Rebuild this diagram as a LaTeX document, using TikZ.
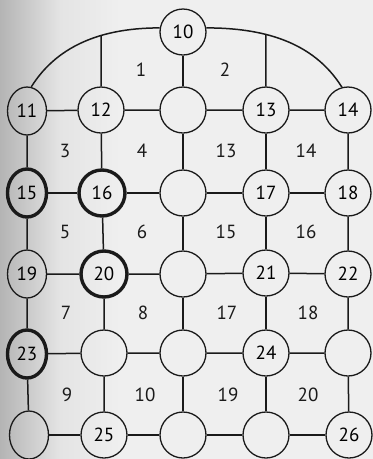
\documentclass[tikz,border=0pt]{standalone}
\usepackage{fontspec}
\setmainfont{PT Sans}
\usetikzlibrary{shapes.geometric,intersections}
\definecolor{bgedge}{HTML}{B4B4B4}
\definecolor{bgmid}{HTML}{E4E4E4}
\definecolor{bgmain}{HTML}{EFEFEF}
\definecolor{ink}{HTML}{1A1A1A}
\tikzset{
  vx/.style={circle,draw=ink,line width=1.3pt,minimum size=46pt,inner sep=0pt,font=\fontsize{19}{19}\selectfont},
  vxl/.style={ellipse,draw=ink,line width=1.3pt,minimum width=39pt,minimum height=48pt,inner sep=0pt,font=\fontsize{19}{19}\selectfont},
  bold/.style={line width=3.4pt},
  edge/.style={draw=ink,line width=1.5pt},
  reg/.style={font=\fontsize{19}{19}\selectfont,text=ink}
}
\begin{document}
\begin{tikzpicture}[x=1pt,y=-1pt]
\useasboundingbox (0,0) rectangle (373,459);
\fill[bgmain] (0,0) rectangle (373,459);
\shade[left color=bgedge,right color=bgmid] (0,0) rectangle (60,459);
\shade[left color=bgmid,right color=bgmain] (60,0) rectangle (120,459);
% nodes
\node[vx] (n10) at (183,32) {10};
% row 1
\node[vxl] (n11) at (27,111) {11};
\node[vx] (n12) at (101,110) {12};
\node[vx] (c3r1) at (183,110) {};
\node[vx] (n13) at (266,110) {13};
\node[vx] (n14) at (348,110) {14};
% row 2
\node[vxl,bold] (n15) at (27,193) {15};
\node[vx,bold] (n16) at (102,193) {16};
\node[vx] (c3r2) at (183,193) {};
\node[vx] (n17) at (266,193) {17};
\node[vx] (n18) at (348,193) {18};
% row 3
\node[vxl] (n19) at (27,274) {19};
\node[vx,bold] (n20) at (104,274) {20};
\node[vx] (c3r3) at (183,274) {};
\node[vx] (n21) at (266,273) {21};
\node[vx] (n22) at (348,274) {22};
% row 4
\node[vxl,bold] (n23) at (27,354) {23};
\node[vx] (c2r4) at (104,353) {};
\node[vx] (c3r4) at (183,353) {};
\node[vx] (n24) at (266,353) {24};
\node[vx] (c5r4) at (348,353) {};
% row 5
\node[vxl] (c1r5) at (29,435) {};
\node[vx] (n25) at (104,435) {25};
\node[vx] (c3r5) at (183,435) {};
\node[vx] (c4r5) at (266,435) {};
\node[vx] (n26) at (349,435) {26};
% arc
\draw[edge,name path=arc] (n11.80) to[out=58,in=180,looseness=0.95] (n10.170)
  (n10.10) to[out=0,in=122,looseness=0.95] (n14.105);
\path[name path=v12] (n12) -- ++(0,-100);
\path[name path=v13] (n13) -- ++(0,-100);
\path[name intersections={of=arc and v12,by=a12}];
\path[name intersections={of=arc and v13,by=a13}];
\draw[edge] (n12) -- (a12);
\draw[edge] (n13) -- (a13);
\draw[edge] (c3r1) -- (n10);
% horizontal
\draw[edge] (n11) -- (n12) (n12) -- (c3r1) (c3r1) -- (n13) (n13) -- (n14);
\draw[edge] (n15) -- (n16) (n16) -- (c3r2) (c3r2) -- (n17) (n17) -- (n18);
\draw[edge] (n19) -- (n20) (n20) -- (c3r3) (c3r3) -- (n21) (n21) -- (n22);
\draw[edge] (n23) -- (c2r4) (c2r4) -- (c3r4) (c3r4) -- (n24) (n24) -- (c5r4);
\draw[edge] (c1r5) -- (n25) (n25) -- (c3r5) (c3r5) -- (c4r5) (c4r5) -- (n26);
% vertical
\draw[edge] (n11) -- (n15) (n15) -- (n19) (n19) -- (n23) (n23) -- (c1r5);
\draw[edge] (n12) -- (n16) (n16) -- (n20) (n20) -- (c2r4) (c2r4) -- (n25);
\draw[edge] (c3r1) -- (c3r2) (c3r2) -- (c3r3) (c3r3) -- (c3r4) (c3r4) -- (c3r5);
\draw[edge] (n13) -- (n17) (n17) -- (n21) (n21) -- (n24) (n24) -- (c4r5);
\draw[edge] (n14) -- (n18) (n18) -- (n22) (n22) -- (c5r4) (c5r4) -- (n26);
% region labels
\node[reg] (r1) at (141,70) {1};
\node[reg] (r2) at (225,70) {2};
\node[reg] (r3) at (65,151) {3};
\node[reg] (r4) at (142,151) {4};
\node[reg] (r13) at (226,151) {13};
\node[reg] (r14) at (306,151) {14};
\node[reg] (r5) at (65,232) {5};
\node[reg] (r6) at (142,232) {6};
\node[reg] (r15) at (226,232) {15};
\node[reg] (r16) at (306,232) {16};
\node[reg] (r7) at (66,313) {7};
\node[reg] (r8) at (143,313) {8};
\node[reg] (r17) at (227,313) {17};
\node[reg] (r18) at (308,313) {18};
\node[reg] (r9) at (67,395) {9};
\node[reg] (r10) at (145,395) {10};
\node[reg] (r19) at (228,395) {19};
\node[reg] (r20) at (308,395) {20};
\end{tikzpicture}
\end{document}
